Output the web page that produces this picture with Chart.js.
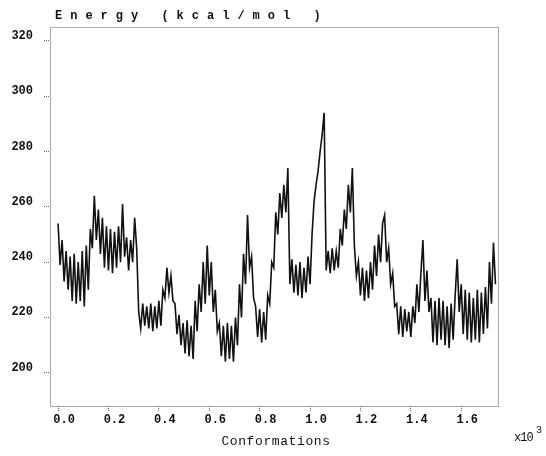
<!DOCTYPE html>
<html>
<head>
<meta charset="utf-8">
<script src="https://cdn.jsdelivr.net/npm/chart.js@4.4.1/dist/chart.umd.min.js"></script>
<style>
  html, body { margin: 0; padding: 0; background: #fff; }
  canvas { display: block; }
</style>
</head>
<body>
<canvas id="energyChart" width="546" height="456"></canvas>
<script>
// one sample every 8 conformations
const conformStep = 8;

// energies (kcal/mol)
const energy = [
  254, 239, 248, 233, 244, 230, 242, 226, 243, 225,
  240, 226, 244, 224, 246, 230, 252, 245, 264, 248,
  259, 243, 256, 238, 253, 237, 252, 236, 251, 238,
  253, 240, 261, 242, 249, 237, 248, 240, 256, 245,
  222, 216, 225, 217, 224, 216, 225, 215, 224, 216,
  226, 217, 230, 227, 238, 229, 235, 226, 225, 214,
  221, 210, 218, 207, 219, 206, 217, 205, 226, 215,
  232, 222, 240, 225, 246, 228, 240, 222, 230, 215,
  218, 206, 217, 204, 218, 205, 217, 204, 220, 210,
  232, 220, 243, 232, 257, 238, 242, 227, 224, 213,
  223, 211, 222, 212, 228, 225, 240, 238, 258, 250,
  265, 256, 268, 258, 274, 232, 241, 229, 239, 228,
  240, 227, 238, 229, 242, 232, 250, 262, 268, 273,
  280, 286, 294, 237, 244, 236, 245, 237, 244, 238,
  252, 246, 259, 252, 268, 258, 274, 246, 235, 240,
  228, 238, 226, 237, 227, 240, 230, 246, 235, 250,
  240, 254, 257, 240, 245, 232, 236, 224, 225, 214,
  224, 213, 223, 215, 222, 213, 224, 218, 232, 222,
  236, 248, 226, 237, 222, 227, 211, 226, 210, 227,
  212, 226, 210, 224, 209, 225, 212, 228, 241, 222,
  232, 214, 230, 212, 229, 211, 227, 212, 230, 211,
  229, 214, 231, 216, 240, 225, 247, 232
];

const xTicks = [0, 200, 400, 600, 800, 1000, 1200, 1400, 1600];
const yTicks = [200, 220, 240, 260, 280, 300, 320];

const points = energy.map((e, i) => ({ x: i * conformStep, y: e }));

const monoFont = '"Liberation Mono", "DejaVu Sans Mono", monospace';

// dotted frame plus the titles
const framePlugin = {
  id: 'frame',
  afterDraw(chart) {
    const ctx = chart.ctx;
    const a = chart.chartArea;
    ctx.save();
    ctx.setLineDash([1, 1]);
    ctx.strokeStyle = '#555';
    ctx.lineWidth = 1;
    ctx.strokeRect(a.left + 0.5, a.top + 0.5, a.right - a.left, a.bottom - a.top);
    ctx.setLineDash([]);

    ctx.fillStyle = '#111';
    ctx.textBaseline = 'middle';
    ctx.font = 'bold 12px ' + monoFont;
    ctx.letterSpacing = '8px';
    ctx.textAlign = 'left';
    ctx.fillText('Energy (kcal/mol )', 55, 16);

    ctx.letterSpacing = '0.6px';
    ctx.font = '13px ' + monoFont;
    ctx.textAlign = 'center';
    ctx.fillText('Conformations', 276, 442);

    ctx.letterSpacing = '-1px';
    ctx.textAlign = 'left';
    ctx.font = '12px ' + monoFont;
    ctx.fillText('x10', 514, 438);
    ctx.letterSpacing = '0px';
    ctx.font = '10px ' + monoFont;
    ctx.fillText('3', 536, 430);
    ctx.restore();
  }
};

new Chart(document.getElementById('energyChart'), {
  type: 'line',
  data: {
    datasets: [{
      data: points,
      borderColor: '#111',
      borderWidth: 1.6,
      pointRadius: 0,
      tension: 0,
      fill: false
    }]
  },
  options: {
    responsive: false,
    animation: false,
    layout: { padding: { top: 27, right: 48, left: 0, bottom: 0 } },
    plugins: {
      legend: { display: false },
      tooltip: { enabled: false }
    },
    scales: {
      x: {
        type: 'linear',
        min: -32,
        max: 1746,
        afterBuildTicks: (s) => { s.ticks = xTicks.map(v => ({ value: v })); },
        afterFit: (s) => { s.height = 50; },
        border: { display: false },
        grid: {
          drawOnChartArea: false,
          drawTicks: true,
          tickLength: 5,
          color: '#666',
          tickBorderDash: [1, 1]
        },
        ticks: {
          padding: 2,
          labelOffset: 6,
          maxRotation: 0,
          color: '#111',
          font: { family: monoFont, size: 12, weight: 'bold' },
          callback: (v) => (v / 1000).toFixed(1)
        }
      },
      y: {
        min: 188,
        max: 325,
        afterBuildTicks: (s) => { s.ticks = yTicks.map(v => ({ value: v })); },
        afterFit: (s) => { s.width = 50; },
        border: { display: false },
        grid: {
          drawOnChartArea: false,
          drawTicks: true,
          tickLength: 6,
          color: '#666',
          tickBorderDash: [1, 1]
        },
        ticks: {
          padding: 11,
          labelOffset: -5,
          color: '#111',
          font: { family: monoFont, size: 12, weight: 'bold' }
        }
      }
    }
  },
  plugins: [framePlugin]
});
</script>
</body>
</html>
